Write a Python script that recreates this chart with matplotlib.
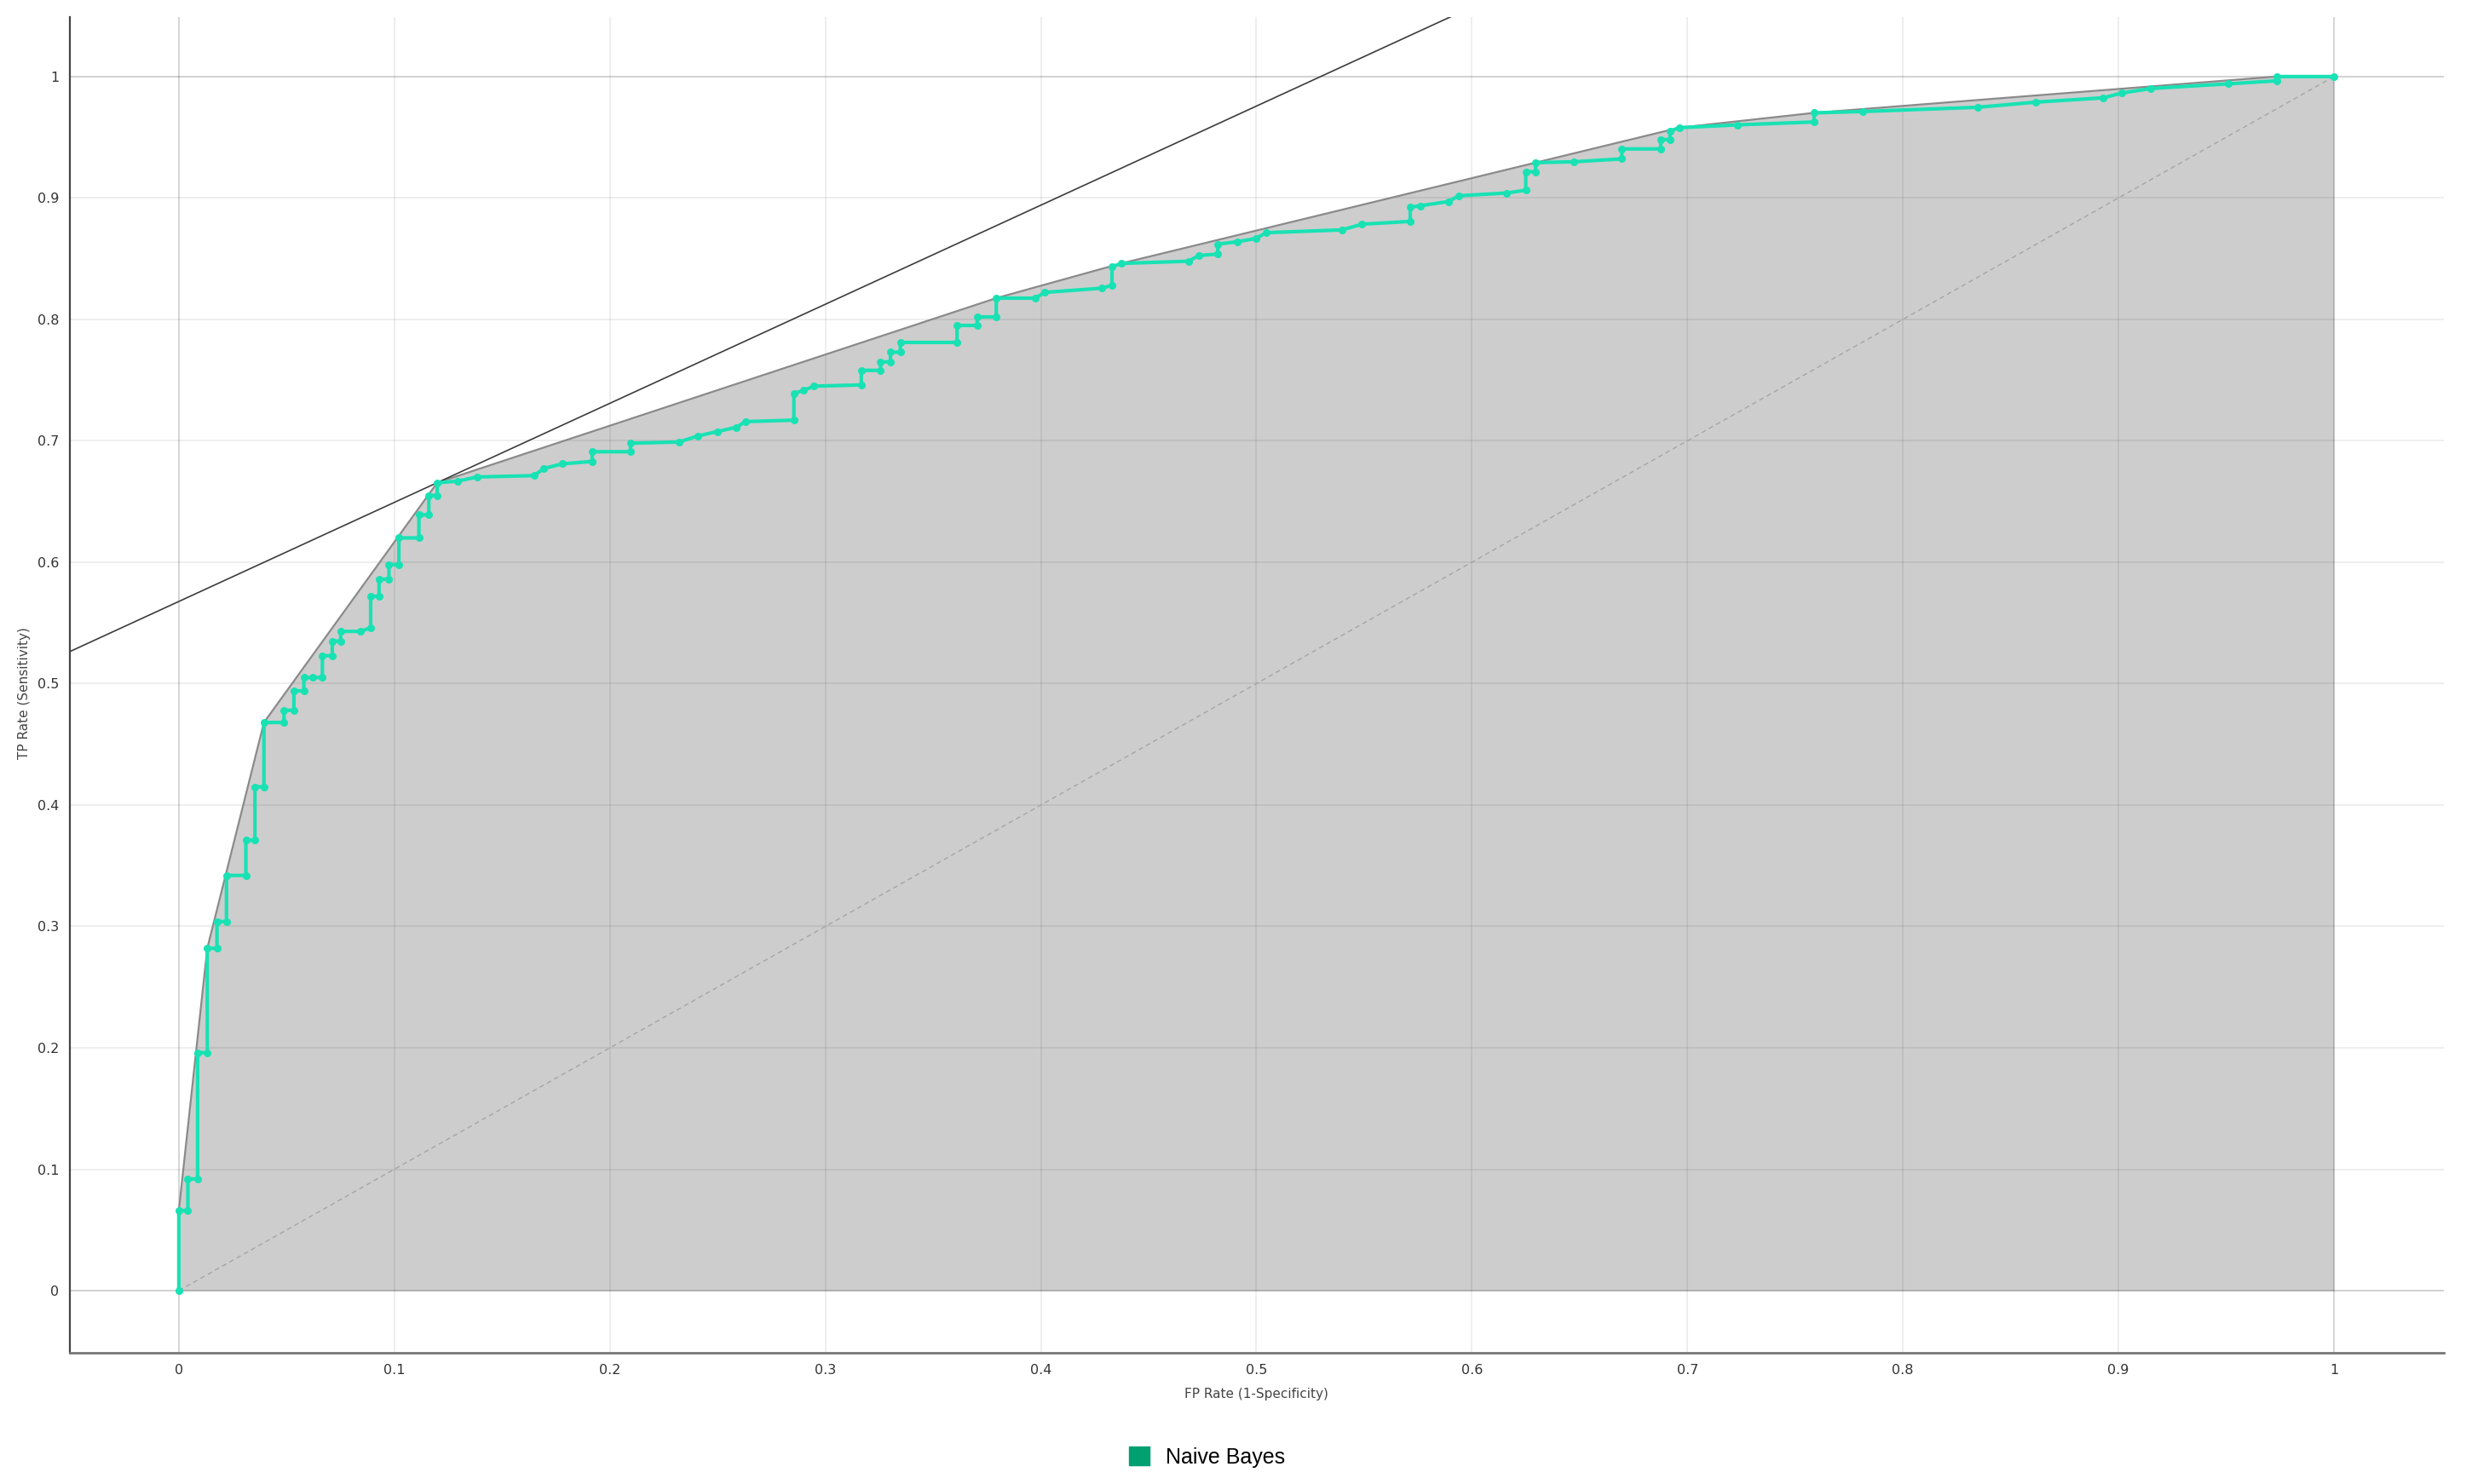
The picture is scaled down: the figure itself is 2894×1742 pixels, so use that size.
import matplotlib
matplotlib.use("Agg")
import matplotlib.pyplot as plt
from matplotlib.patches import Patch
import numpy as np

# ROC vertices for Naive Bayes
fpr = [0.0, 0.0, 0.0042, 0.0042, 0.0087, 0.0087, 0.0132, 0.0132, 0.0177, 0.0177,
       0.0221, 0.0221, 0.0311, 0.0311, 0.0353, 0.0353, 0.0395, 0.0395, 0.0488, 0.0488,
       0.0534, 0.0534, 0.0580, 0.0580, 0.0620, 0.0666, 0.0666, 0.0712, 0.0712, 0.0751,
       0.0751, 0.0843, 0.0890, 0.0890, 0.0929, 0.0929, 0.0975, 0.0975, 0.1021, 0.1021,
       0.1114, 0.1114, 0.1160, 0.1160, 0.1199, 0.1199, 0.1292, 0.1384, 0.1648, 0.1694,
       0.1779, 0.1918, 0.1918, 0.2096, 0.2096, 0.2320, 0.2409, 0.2498, 0.2586, 0.2629,
       0.2854, 0.2854, 0.2900, 0.2946, 0.3167, 0.3167, 0.3256, 0.3256, 0.3302, 0.3302,
       0.3348, 0.3348, 0.3611, 0.3611, 0.3704, 0.3704, 0.3793, 0.3793, 0.3974, 0.4017,
       0.4284, 0.4330, 0.4330, 0.4373, 0.4686, 0.4732, 0.4821, 0.4821, 0.4910, 0.4999,
       0.5045, 0.5397, 0.5490, 0.5714, 0.5714, 0.5760, 0.5892, 0.5938, 0.6162, 0.6250,
       0.6250, 0.6296, 0.6296, 0.6472, 0.6696, 0.6696, 0.6876, 0.6876, 0.6920, 0.6920,
       0.6963, 0.7232, 0.7588, 0.7588, 0.7812, 0.8347, 0.8616, 0.8930, 0.9015, 0.9151,
       0.9510, 0.9734, 0.9734, 1.0]
tpr = [0.0, 0.066, 0.066, 0.092, 0.092, 0.196, 0.196, 0.282, 0.282, 0.304,
       0.304, 0.342, 0.342, 0.371, 0.371, 0.415, 0.415, 0.468, 0.468, 0.478,
       0.478, 0.494, 0.494, 0.505, 0.505, 0.505, 0.523, 0.523, 0.535, 0.535,
       0.543, 0.543, 0.546, 0.572, 0.572, 0.586, 0.586, 0.598, 0.598, 0.620,
       0.620, 0.639, 0.639, 0.655, 0.655, 0.6655, 0.6667, 0.6702, 0.6713, 0.6772,
       0.6810, 0.683, 0.691, 0.691, 0.698, 0.699, 0.704, 0.7076, 0.7111, 0.7158,
       0.717, 0.739, 0.7415, 0.745, 0.746, 0.758, 0.758, 0.765, 0.765, 0.773,
       0.773, 0.781, 0.781, 0.795, 0.795, 0.802, 0.802, 0.8175, 0.8175, 0.8222,
       0.8257, 0.8281, 0.8433, 0.8461, 0.8479, 0.8526, 0.8538, 0.862, 0.8639, 0.8667,
       0.8714, 0.8737, 0.8784, 0.8807, 0.8924, 0.8936, 0.8971, 0.9018, 0.9041, 0.9064,
       0.9216, 0.9216, 0.9291, 0.9298, 0.9322, 0.9404, 0.9404, 0.9481, 0.9481, 0.9551,
       0.9579, 0.9602, 0.9626, 0.9701, 0.9712, 0.9747, 0.9789, 0.9825, 0.9864, 0.9902,
       0.9940, 0.9965, 1.0, 1.0]

ticks = [0, 0.1, 0.2, 0.3, 0.4, 0.5, 0.6, 0.7, 0.8, 0.9, 1]
tick_labels = ["0", "0.1", "0.2", "0.3", "0.4", "0.5", "0.6", "0.7", "0.8", "0.9", "1"]
model_name = "Naive Bayes"
iso_slope = 0.816  # slope of the iso-performance line

curve_color = "#18e2b4"
legend_color = "#00a071"


def upper_hull(xs, ys):
    pts = sorted(zip(xs, ys))
    hull = []
    for p in pts:
        while len(hull) >= 2:
            o, a = hull[-2], hull[-1]
            cross = (a[0] - o[0]) * (p[1] - o[1]) - (a[1] - o[1]) * (p[0] - o[0])
            if cross >= 0:
                hull.pop()
            else:
                break
        hull.append(p)
    return np.array(hull)


fig = plt.figure(figsize=(28.94, 17.42), dpi=100)
ax = fig.add_axes([0.0283, 0.0884, 0.9627, 0.9001])

hull = upper_hull(fpr, tpr)

# grey area under the convex hull
ax.fill_between(hull[:, 0], 0, hull[:, 1], color="#cdcdcd", lw=0, zorder=0.3)
ax.plot(hull[:, 0], hull[:, 1], color="#8a8a8a", lw=1.6, zorder=2)

# grid on top of the fill
ax.set_axisbelow(True)
ax.grid(True, color="black", alpha=0.065, lw=1.4)
for b in [0, 1]:
    ax.axhline(b, color="black", alpha=0.12, lw=1.4, zorder=0.6)
    ax.axvline(b, color="black", alpha=0.10, lw=1.4, zorder=0.6)

# chance diagonal
ax.plot([0, 1], [0, 1], color="#a5a5a5", lw=1.0, ls=(0, (4, 3)), zorder=1)

# iso-performance line tangent to the hull
best = np.argmax(hull[:, 1] - iso_slope * hull[:, 0])
xx = np.array([-0.2, 1.2])
ax.plot(xx, hull[best, 1] + iso_slope * (xx - hull[best, 0]), color="#3c3c3c", lw=1.2, zorder=2)

# ROC curve
ax.plot(fpr, tpr, color=curve_color, lw=3.0, marker="o", ms=6.5, mew=0, zorder=3)

ax.set_xlim(-0.0506, 1.051)
ax.set_ylim(-0.0512, 1.049)
ax.set_xticks(ticks)
ax.set_xticklabels(tick_labels)
ax.set_yticks(ticks)
ax.set_yticklabels(tick_labels)
ax.tick_params(length=0, labelsize=11.5, labelcolor="#333333", pad=9)

for s in ["top", "right"]:
    ax.spines[s].set_visible(False)
ax.spines["left"].set_color("#444444")
ax.spines["bottom"].set_color("#777777")
ax.spines["left"].set_linewidth(1.6)
ax.spines["bottom"].set_linewidth(2.0)

ax.set_xlabel("FP Rate (1-Specificity)", fontsize=11, color="#444444")
ax.set_ylabel("TP Rate (Sensitivity)", fontsize=11, color="#444444")
ax.xaxis.set_label_coords(0.5, -0.026)
ax.yaxis.set_label_coords(-0.0165, 0.494)

fig.legend(handles=[Patch(color=legend_color, label=model_name)],
           loc="center", bbox_to_anchor=(0.4894, 0.018), frameon=False,
           handlelength=0.95, handleheight=0.95, handletextpad=0.75,
           prop={"family": "Liberation Sans", "size": 18})

fig.savefig("out.png", dpi=100, facecolor="white")
